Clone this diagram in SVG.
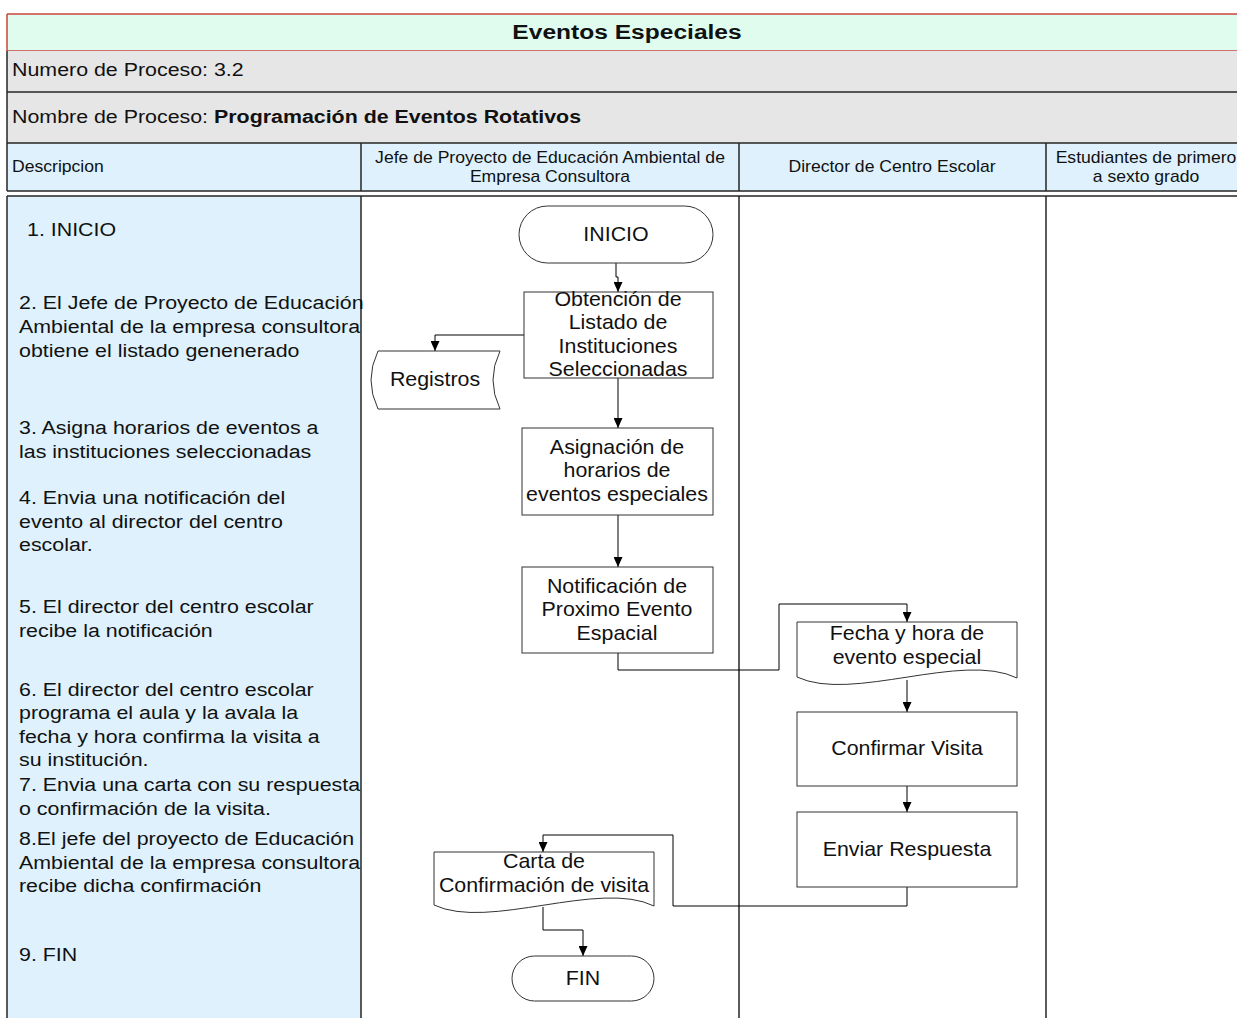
<svg xmlns="http://www.w3.org/2000/svg" width="1237" height="1018" viewBox="0 0 1237 1018">
  <style>
    text { font-family: "Liberation Sans", Arial, sans-serif; fill: #111; }
    .title { font-size: 21px; font-weight: bold; text-anchor: middle; }
    .row { font-size: 18.6px; }
    .hdr { font-size: 16px; }
    .hdrc { font-size: 16px; text-anchor: middle; }
    .desc { font-size: 18.6px; }
    .nt { font-size: 19.8px; text-anchor: middle; }
    .grid { stroke: #262626; stroke-width: 1.5; fill: none; }
    .shape { fill: #fff; stroke: #333; stroke-width: 1; }
    .conn { fill: none; stroke: #000; stroke-width: 1; marker-end: url(#arrow); }
  </style>
  <defs>
    <marker id="arrow" markerUnits="userSpaceOnUse" markerWidth="10" markerHeight="9" refX="10" refY="4.5" orient="auto">
      <path d="M0,0 L10,4.5 L0,9 Z" fill="#000"/>
    </marker>
  </defs>

  <rect width="1237" height="1018" fill="#fff"/>

  <!-- table frame -->
  <g id="table">
    <rect x="7" y="14" width="1240" height="37" fill="#e0fcee"/>
    <line x1="7" y1="14" x2="1237" y2="14" stroke="#c8443c" stroke-width="1.5"/>
    <line x1="7" y1="51" x2="1237" y2="51" stroke="#c8443c" stroke-width="1.5"/>
    <line x1="7" y1="14" x2="7" y2="51" stroke="#c8443c" stroke-width="1.5"/>
    <rect x="7" y="51" width="1240" height="92" fill="#e6e6e6"/>
    <rect x="7" y="143" width="1240" height="48" fill="#def1fc"/>
    <path class="grid" d="M7,51 V191 M7,92 H1237 M7,143 H1237 M7,191 H1237 M361,143 V191 M739,143 V191 M1046,143 V191"/>
    <rect x="7" y="196" width="354" height="822" fill="#def1fc"/>
    <path class="grid" d="M7,196 H1237 M7,196 V1018 M361,196 V1018 M739,196 V1018 M1046,196 V1018"/>

    <text class="title" transform="matrix(1.17,0,0,1,627,0)" x="0" y="39.5">Eventos Especiales</text>
    <text class="row" transform="matrix(1.15,0,0,1,12,0)" x="0" y="76.5">Numero de Proceso: 3.2</text>
    <text class="row" transform="matrix(1.15,0,0,1,12,0)" x="0" y="123.5">Nombre de Proceso: <tspan font-weight="bold">Programación de Eventos Rotativos</tspan></text>

    <text class="hdr" transform="matrix(1.1,0,0,1,12,0)" x="0" y="172">Descripcion</text>
    <text class="hdrc" transform="matrix(1.1,0,0,1,550,0)" x="0" y="163">Jefe de Proyecto de Educación Ambiental de<tspan x="0" dy="19">Empresa Consultora</tspan></text>
    <text class="hdrc" transform="matrix(1.1,0,0,1,892,0)" x="0" y="172">Director de Centro Escolar</text>
    <text class="hdrc" transform="matrix(1.1,0,0,1,1146,0)" x="0" y="163">Estudiantes de primero<tspan x="0" dy="19">a sexto grado</tspan></text>
  </g>

  <!-- process description column -->
  <g id="descripcion" transform="matrix(1.15,0,0,1,19,0)">
    <text class="desc" x="7" y="236.5">1. INICIO</text>
    <text class="desc" x="0" y="309.5">2. El Jefe de Proyecto de Educación<tspan x="0" dy="24">Ambiental de la empresa consultora</tspan><tspan x="0" dy="24">obtiene el listado genenerado</tspan></text>
    <text class="desc" x="0" y="434.5">3. Asigna horarios de eventos a<tspan x="0" dy="24">las instituciones seleccionadas</tspan></text>
    <text class="desc" x="0" y="504.5">4. Envia una notificación del<tspan x="0" dy="23.5">evento al director del centro</tspan><tspan x="0" dy="23.5">escolar.</tspan></text>
    <text class="desc" x="0" y="613.5">5. El director del centro escolar<tspan x="0" dy="23.5">recibe la notificación</tspan></text>
    <text class="desc" x="0" y="696">6. El director del centro escolar<tspan x="0" dy="23.5">programa el aula y la avala la</tspan><tspan x="0" dy="23.5">fecha y hora confirma la visita a</tspan><tspan x="0" dy="23.5">su institución.</tspan></text>
    <text class="desc" x="0" y="791.5">7. Envia una carta con su respuesta<tspan x="0" dy="23.5">o confirmación de la visita.</tspan></text>
    <text class="desc" x="0" y="845.5">8.El jefe del proyecto de Educación<tspan x="0" dy="23.5">Ambiental de la empresa consultora</tspan><tspan x="0" dy="23.5">recibe dicha confirmación</tspan></text>
    <text class="desc" x="0" y="961">9. FIN</text>
  </g>

  <!-- connectors -->
  <g id="connectors">
    <path class="conn" d="M616,263 V277 H618 V292"/>
    <path class="conn" d="M524,335 H435 V351"/>
    <path class="conn" d="M618,378 V428"/>
    <path class="conn" d="M618,515 V567"/>
    <path class="conn" d="M618,653 V670 H779 V604 H907 V622"/>
    <path class="conn" d="M907,680 V712"/>
    <path class="conn" d="M907,786 V812"/>
    <path class="conn" d="M907,887 V906 H673 V835 H543 V852"/>
    <path class="conn" d="M543,907 V930 H583 V956"/>
  </g>

  <!-- nodes -->
  <g id="inicio">
    <rect class="shape" x="519" y="206" width="194" height="57" rx="28.5"/>
    <text class="nt" transform="matrix(1.08,0,0,1,616,0)" x="0" y="241">INICIO</text>
  </g>
  <g id="obtencion">
    <rect class="shape" x="524" y="292" width="189" height="86"/>
    <text class="nt" transform="matrix(1.08,0,0,1,618,0)" x="0" y="306">Obtención de<tspan x="0" dy="23.5">Listado de</tspan><tspan x="0" dy="23.5">Instituciones</tspan><tspan x="0" dy="23.5">Seleccionadas</tspan></text>
  </g>
  <g id="registros">
    <path class="shape" d="M378,351 H500 Q486,380 500,409 H378 Q364,380 378,351 Z"/>
    <text class="nt" transform="matrix(1.08,0,0,1,435,0)" x="0" y="386">Registros</text>
  </g>
  <g id="asignacion">
    <rect class="shape" x="522" y="428" width="191" height="87"/>
    <text class="nt" transform="matrix(1.08,0,0,1,617,0)" x="0" y="454">Asignación de<tspan x="0" dy="23.5">horarios de</tspan><tspan x="0" dy="23.5">eventos especiales</tspan></text>
  </g>
  <g id="notificacion">
    <rect class="shape" x="522" y="567" width="191" height="86"/>
    <text class="nt" transform="matrix(1.08,0,0,1,617,0)" x="0" y="593">Notificación de<tspan x="0" dy="23.5">Proximo Evento</tspan><tspan x="0" dy="23.5">Espacial</tspan></text>
  </g>
  <g id="fecha">
    <path class="shape" d="M797,622 H1017 V678 C962,651 852,703 797,677 Z"/>
    <text class="nt" transform="matrix(1.08,0,0,1,907,0)" x="0" y="640">Fecha y hora de<tspan x="0" dy="24">evento especial</tspan></text>
  </g>
  <g id="confirmar">
    <rect class="shape" x="797" y="712" width="220" height="74"/>
    <text class="nt" transform="matrix(1.08,0,0,1,907,0)" x="0" y="755">Confirmar Visita</text>
  </g>
  <g id="enviar">
    <rect class="shape" x="797" y="812" width="220" height="75"/>
    <text class="nt" transform="matrix(1.08,0,0,1,907,0)" x="0" y="856">Enviar Respuesta</text>
  </g>
  <g id="carta">
    <path class="shape" d="M434,852 H654 V906 C599,879 489,931 434,905 Z"/>
    <text class="nt" transform="matrix(1.08,0,0,1,544,0)" x="0" y="868">Carta de<tspan x="0" dy="24">Confirmación de visita</tspan></text>
  </g>
  <g id="fin">
    <rect class="shape" x="512" y="956" width="142" height="45" rx="22.5"/>
    <text class="nt" transform="matrix(1.08,0,0,1,583,0)" x="0" y="985">FIN</text>
  </g>
</svg>
